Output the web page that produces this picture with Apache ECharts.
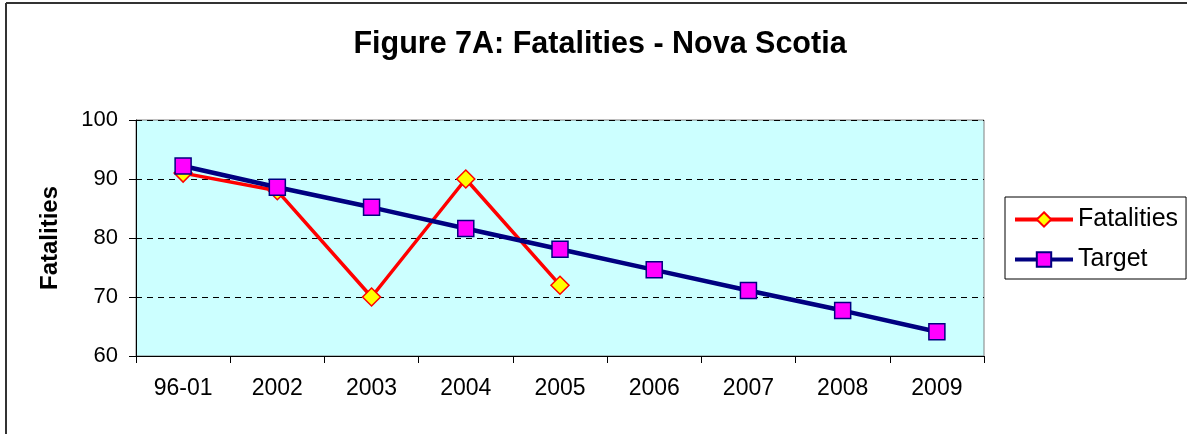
<!DOCTYPE html>
<html>
<head>
<meta charset="utf-8">
<script src="https://cdn.jsdelivr.net/npm/echarts@6/dist/echarts.min.js"></script>
<style>
    html, body { margin: 0; padding: 0; background: #fff; }
    #chart { width: 1187px; height: 434px; }
</style>
</head>
<body>
<div id="chart"></div>
<script>
// categories and values
var years = ['96-01', '2002', '2003', '2004', '2005', '2006', '2007', '2008', '2009'];
var fatalities = [91, 88, 70, 90, 72];
var target = [92.2, 88.6, 85.2, 81.6, 78.1, 74.6, 71.1, 67.7, 64.1];
var yTicks = [60, 70, 80, 90, 100];

var myChart = echarts.init(document.getElementById('chart'));
var font = 'Arial, "Liberation Sans", sans-serif';
var option = {
    animation: false,
    backgroundColor: '#fff',
    title: {
        text: 'Figure 7A: Fatalities - Nova Scotia',
        left: 595,
        top: 24,
        textAlign: 'center',
        textStyle: { fontFamily: font, fontSize: 30.5, fontWeight: 'bold', color: '#000' }
    },
    // chart frame, only top and left edges show in the picture
    graphic: [
        { type: 'line', shape: { x1: 6, y1: 3, x2: 1187, y2: 3 }, style: { stroke: '#333', lineWidth: 2 } },
        { type: 'line', shape: { x1: 6, y1: 3, x2: 6, y2: 434 }, style: { stroke: '#333', lineWidth: 2 } }
    ],
    legend: {
        orient: 'vertical',
        left: 1005,
        top: 197,
        padding: [10, 8, 7, 8],
        itemGap: 15,
        itemWidth: 58,
        itemHeight: 18,
        borderColor: '#000',
        borderWidth: 1,
        lineStyle: { width: 4 },
        textStyle: { fontFamily: font, fontSize: 25, color: '#000' },
        data: ['Fatalities', 'Target']
    },
    grid: {
        left: 136,
        top: 120,
        width: 848,
        height: 236,
        show: true,
        backgroundColor: '#ccffff',
        borderColor: '#808080',
        borderWidth: 1
    },
    xAxis: {
        type: 'category',
        data: years,
        boundaryGap: true,
        axisLine: { lineStyle: { color: '#000', width: 1 } },
        axisTick: { show: true, length: 7, lineStyle: { color: '#000' } },
        axisLabel: { fontFamily: font, fontSize: 23, color: '#000', margin: 21 }
    },
    yAxis: {
        type: 'value',
        min: yTicks[0],
        max: yTicks[yTicks.length - 1],
        interval: 10,
        name: 'Fatalities',
        nameLocation: 'middle',
        nameGap: 74,
        nameTextStyle: { fontFamily: font, fontSize: 24, fontWeight: 'bold', color: '#000' },
        axisLine: { show: true, lineStyle: { color: '#000', width: 1 } },
        axisTick: { show: true, length: 7, lineStyle: { color: '#000' } },
        axisLabel: { fontFamily: font, fontSize: 22, color: '#000', margin: 18 },
        splitLine: { show: true, lineStyle: { color: '#000', type: [6, 5], width: 1 } }
    },
    series: [
        {
            name: 'Fatalities',
            type: 'line',
            data: fatalities,
            symbol: 'diamond',
            symbolSize: 18,
            lineStyle: { color: '#ff0000', width: 3.5 },
            itemStyle: { color: '#ffff00', borderColor: '#ff0000', borderWidth: 1.5 },
            z: 2
        },
        {
            name: 'Target',
            type: 'line',
            data: target,
            symbol: 'rect',
            symbolSize: 16,
            lineStyle: { color: '#000080', width: 4.5 },
            itemStyle: { color: '#ff00ff', borderColor: '#000080', borderWidth: 1.5 },
            z: 3
        }
    ]
};
myChart.setOption(option);
</script>
</body>
</html>
